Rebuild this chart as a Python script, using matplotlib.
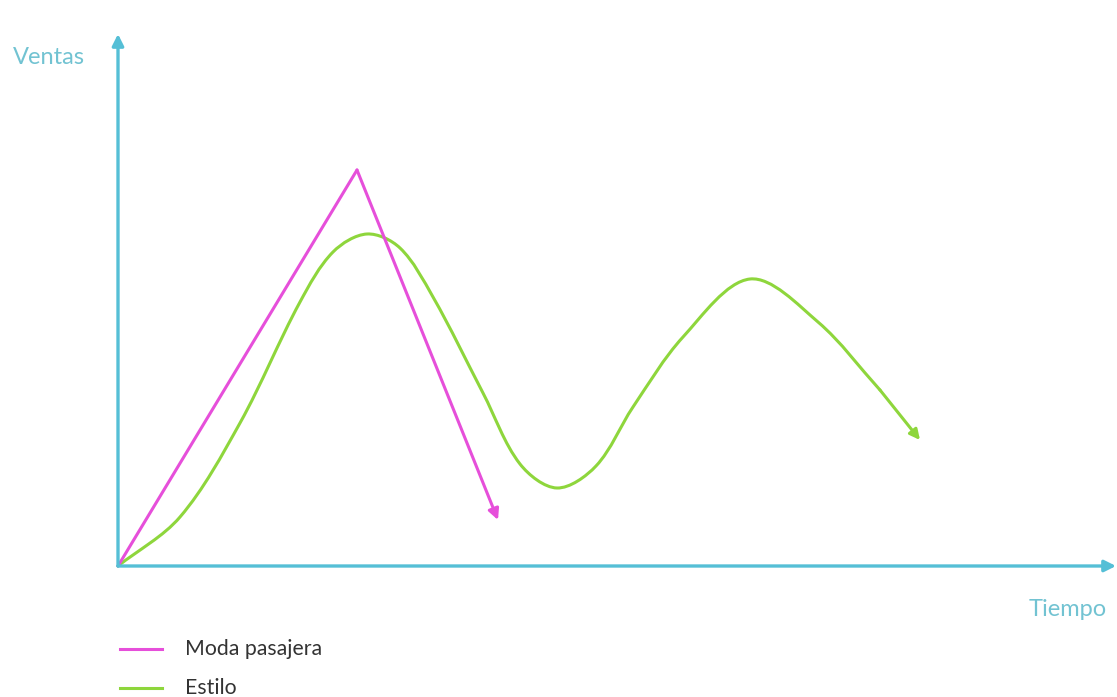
import matplotlib
matplotlib.use("Agg")
import matplotlib.pyplot as plt
from matplotlib.path import Path
from matplotlib.patches import PathPatch
import numpy as np

# Data (arbitrary units: time, sales)
moda_t = [0.0, 23.9, 38.0]
moda_v = [0.0, 39.6, 4.6]

estilo_t = [0.0, 6.2, 12.2, 18.2, 21.5, 24.9, 28.2, 31.5, 36.5, 40.2, 43.9,
            47.8, 51.5, 56.5, 63.2, 70.0, 76.2, 80.2]
estilo_v = [0.0, 4.9, 14.3, 26.4, 31.4, 33.2, 31.8, 26.9, 17.3, 10.2, 7.8,
            10.0, 15.9, 22.9, 28.7, 24.4, 17.6, 12.6]

x_label = "Tiempo"
y_label = "Ventas"
legend_labels = ["Moda pasajera", "Estilo"]

AXIS_C = "#55bfd6"
LABEL_C = "#72c3d2"
MAG = "#e64fda"
GRN = "#8ed63c"

plt.rcParams['font.family'] = ['Lato', 'DejaVu Sans']


def smooth_path(xs, ys):
    """Cubic Bezier path through the given points, tangents scaled by chord lengths."""
    P = np.column_stack([xs, ys]).astype(float)
    n = len(P)
    d = np.linalg.norm(np.diff(P, axis=0), axis=1)
    T = np.zeros_like(P)
    for i in range(n):
        if i == 0:
            T[i] = (P[1] - P[0]) / d[0]
        elif i == n - 1:
            T[i] = (P[-1] - P[-2]) / d[-1]
        else:
            T[i] = (P[i + 1] - P[i - 1]) / (d[i - 1] + d[i])
    verts = [P[0]]
    codes = [Path.MOVETO]
    for i in range(n - 1):
        c1 = P[i] + T[i] * d[i] / 3.0
        c2 = P[i + 1] - T[i + 1] * d[i] / 3.0
        verts += [c1, c2, P[i + 1]]
        codes += [Path.CURVE4] * 3
    return Path(verts, codes)


fig = plt.figure(figsize=(11.17, 6.97), dpi=100)
ax = fig.add_axes([0, 0, 1, 1])
ax.set_xlim(-11.8, 99.9)
ax.set_ylim(-13.1, 56.6)
ax.axis('off')

# axes arrows
ax.annotate("", xy=(99.8, 0), xytext=(0, 0),
            arrowprops=dict(arrowstyle='-|>', color=AXIS_C, lw=2.4,
                            mutation_scale=17, shrinkA=0, shrinkB=0))
ax.annotate("", xy=(0, 53.2), xytext=(0, 0),
            arrowprops=dict(arrowstyle='-|>', color=AXIS_C, lw=2.4,
                            mutation_scale=17, shrinkA=0, shrinkB=0))

ax.text(-6.9, 50.8, y_label, color=LABEL_C, fontsize=17, ha='center', va='center')
ax.text(95.0, -4.3, x_label, color=LABEL_C, fontsize=17, ha='center', va='center')

# Moda pasajera
ax.plot(moda_t[:-1], moda_v[:-1], color=MAG, lw=2.2, solid_capstyle='round')
ax.annotate("", xy=(moda_t[-1], moda_v[-1]), xytext=(moda_t[-2], moda_v[-2]),
            arrowprops=dict(arrowstyle='-|>', color=MAG, lw=2.2,
                            mutation_scale=16, shrinkA=0, shrinkB=0))

# Estilo (smooth curve through the read points)
ax.add_patch(PathPatch(smooth_path(estilo_t[:-1], estilo_v[:-1]), facecolor='none',
                       edgecolor=GRN, lw=2.2, capstyle='round'))
ax.annotate("", xy=(estilo_t[-1], estilo_v[-1]), xytext=(estilo_t[-2], estilo_v[-2]),
            arrowprops=dict(arrowstyle='-|>', color=GRN, lw=2.2,
                            mutation_scale=15, shrinkA=0, shrinkB=0))

# legend
ax.plot([0.2, 4.4], [-8.3, -8.3], color=MAG, lw=2.2)
ax.plot([0.2, 4.4], [-12.2, -12.2], color=GRN, lw=2.2)
ax.text(6.7, -8.3, legend_labels[0], color="#333333", fontsize=15.3, ha='left', va='center')
ax.text(6.7, -12.2, legend_labels[1], color="#333333", fontsize=15.3, ha='left', va='center')

fig.savefig("out.png", dpi=100, facecolor='white')
